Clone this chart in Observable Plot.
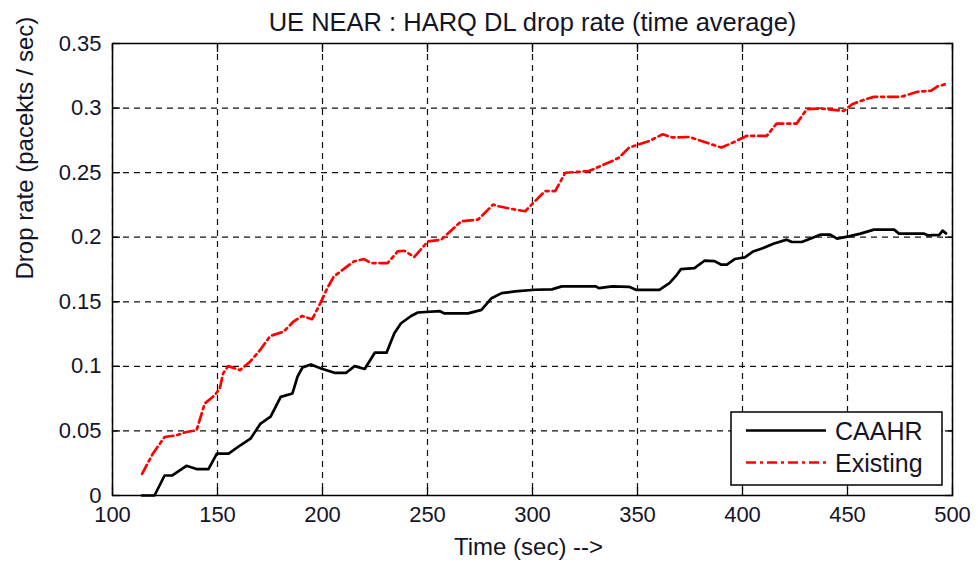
<!DOCTYPE html>
<html>
<head>
<meta charset="utf-8">
<script src="https://cdn.jsdelivr.net/npm/d3@7"></script>
<script src="https://cdn.jsdelivr.net/npm/@observablehq/plot@0.6"></script>
<style>
  html, body { margin: 0; padding: 0; background: #fff; }
  #chart svg { display: block; }
</style>
</head>
<body>
<div id="chart"></div>
<script>
// Time-averaged HARQ downlink drop rate for the near UE
const caahrTime = [114, 120, 124.8, 128.5, 135.2, 140, 145.7, 149.7, 155.3, 160.9, 165.7, 170.5, 175.3, 180.1, 185.7, 188.1, 190.5, 194.5, 199.3, 205.7, 211.3, 215.3, 220.1, 224.9, 230.5, 234.2, 237.4, 242.2, 245.4, 255.7, 258.1, 269.3, 275.7, 280.5, 285.3, 291.7, 301.2, 309.2, 314, 330, 331.6, 338, 346, 349.2, 360.4, 365.2, 368.3, 370.7, 377.1, 381.9, 386.7, 389.9, 392.5, 396.3, 401.1, 405.1, 409.9, 414.7, 421.1, 423.5, 428.2, 432.2, 437, 441.8, 445, 450.6, 456.2, 462.6, 472.2, 474.5, 486.5, 488.1, 493.7, 495.3, 496.9];
const caahrRate = [0, 0, 0.0155, 0.0155, 0.023, 0.0205, 0.0205, 0.0324, 0.0324, 0.0389, 0.044, 0.0557, 0.061, 0.0764, 0.079, 0.092, 0.0992, 0.1015, 0.0984, 0.095, 0.095, 0.1002, 0.098, 0.1106, 0.1106, 0.1256, 0.1334, 0.139, 0.1417, 0.1428, 0.141, 0.141, 0.1437, 0.1528, 0.1567, 0.158, 0.1593, 0.1596, 0.1619, 0.162, 0.1606, 0.162, 0.1616, 0.1593, 0.1593, 0.1645, 0.17, 0.1753, 0.1761, 0.1818, 0.1815, 0.1787, 0.1787, 0.1831, 0.1844, 0.189, 0.1917, 0.195, 0.1981, 0.1963, 0.1963, 0.1989, 0.202, 0.202, 0.1989, 0.2007, 0.2028, 0.2059, 0.2059, 0.2028, 0.2028, 0.2015, 0.2018, 0.2051, 0.203];

const existingTime = [114.1, 119.2, 124.8, 130.4, 135.2, 140, 141.5, 143.9, 148.7, 151.1, 152.7, 155.1, 160.7, 165.5, 170.3, 175.1, 181.5, 186.2, 190.3, 195.1, 199, 202.3, 205.4, 215, 219.8, 223, 231, 235.8, 239, 243.7, 250.2, 256.5, 266.1, 274.1, 281.3, 283.7, 291.7, 296.5, 301.2, 306, 310.8, 315.6, 326.8, 338, 341.2, 346, 355.6, 362, 366.8, 374.7, 382.7, 389.9, 395.5, 401.9, 411.5, 416.2, 425.8, 430.6, 437, 443.4, 448.2, 452.2, 457.8, 462.6, 475.4, 483.3, 489.7, 492.9, 496.9];
const existingRate = [0.0168, 0.0324, 0.0453, 0.0466, 0.0492, 0.0505, 0.0583, 0.0712, 0.0777, 0.0829, 0.0946, 0.1002, 0.0971, 0.1036, 0.1127, 0.1235, 0.1269, 0.1347, 0.139, 0.1365, 0.149, 0.1606, 0.1696, 0.1813, 0.1831, 0.18, 0.18, 0.189, 0.1895, 0.1847, 0.1968, 0.1981, 0.2124, 0.2137, 0.2253, 0.224, 0.2214, 0.2201, 0.2279, 0.2357, 0.2357, 0.2499, 0.2512, 0.259, 0.2616, 0.2694, 0.2745, 0.2797, 0.2772, 0.2776, 0.2733, 0.2694, 0.2733, 0.2784, 0.2784, 0.288, 0.288, 0.2991, 0.2997, 0.2986, 0.2978, 0.303, 0.3064, 0.3087, 0.3087, 0.3126, 0.3134, 0.3168, 0.3186];

const xTicks = [100, 150, 200, 250, 300, 350, 400, 450, 500];
const yTicks = [0, 0.05, 0.1, 0.15, 0.2, 0.25, 0.3, 0.35];
const yTickLabels = ["0", "0.05", "0.1", "0.15", "0.2", "0.25", "0.3", "0.35"];

const seriesNames = ["CAAHR", "Existing"];
const titleText = "UE NEAR : HARQ DL drop rate (time average)";
const xLabel = "Time (sec) -->";
const yLabel = "Drop rate (pacekts / sec)";

const caahr = caahrTime.map((t, i) => ({t, v: caahrRate[i]}));
const existing = existingTime.map((t, i) => ({t, v: existingRate[i]}));

const W = 978, H = 562;
const M = {left: 112, right: 26, top: 43, bottom: 67};
const ink = "#141428";
const font = "'Liberation Sans', Arial, Helvetica, sans-serif";
const redDash = "10,4,3,4";

const blank = () => "";

const chart = Plot.plot({
  width: W,
  height: H,
  marginLeft: M.left,
  marginRight: M.right,
  marginTop: M.top,
  marginBottom: M.bottom,
  x: {domain: [100, 500], label: null},
  y: {domain: [0, 0.35], label: null},
  style: {fontFamily: font, background: "#fff", color: ink, overflow: "visible"},
  marks: [
    Plot.gridX(xTicks, {stroke: "#111", strokeOpacity: 1, strokeWidth: 1.2, strokeDasharray: "6,5"}),
    Plot.gridY(yTicks, {stroke: "#111", strokeOpacity: 1, strokeWidth: 1.2, strokeDasharray: "6,5"}),
    // inward tick marks on all four sides
    Plot.axisX(xTicks, {anchor: "bottom", tickSize: -8, tickFormat: blank, stroke: "#000", strokeWidth: 1.3}),
    Plot.axisX(xTicks, {anchor: "top", tickSize: -8, tickFormat: blank, stroke: "#000", strokeWidth: 1.3}),
    Plot.axisY(yTicks, {anchor: "left", tickSize: -8, tickFormat: blank, stroke: "#000", strokeWidth: 1.3}),
    Plot.axisY(yTicks, {anchor: "right", tickSize: -8, tickFormat: blank, stroke: "#000", strokeWidth: 1.3}),
    Plot.line(caahr, {x: "t", y: "v", stroke: "#000", strokeWidth: 2.7, curve: "linear"}),
    Plot.line(existing, {x: "t", y: "v", stroke: "#ff0000", strokeWidth: 2.7, strokeDasharray: redDash}),
    Plot.frame({stroke: "#000", strokeWidth: 1.5}),
    // tick labels
    Plot.axisX(xTicks, {anchor: "bottom", tickSize: 0, tickPadding: 11, fontSize: 22, fill: ink, label: null}),
    Plot.axisY(yTicks, {anchor: "left", tickSize: 0, tickPadding: 11, fontSize: 22, fill: ink, label: null,
      tickFormat: d => yTickLabels[yTicks.indexOf(d)]}),
    // title and axis labels
    Plot.text([titleText], {frameAnchor: "top", lineAnchor: "bottom", dy: -13, fontSize: 25.5, fill: ink}),
    Plot.text([xLabel], {frameAnchor: "bottom", lineAnchor: "middle", dx: -4, dy: 52, fontSize: 24, fill: ink}),
    Plot.text([yLabel], {frameAnchor: "left", lineAnchor: "middle", rotate: -90, dx: -87, dy: 10, fontSize: 24, fill: ink})
  ]
});

document.getElementById("chart").appendChild(chart);

// legend box in the lower-right corner of the frame
const svg = d3.select(chart);
const frameRight = W - M.right, frameBottom = H - M.bottom;
const boxW = 211, boxH = 73;
const lg = svg.append("g")
  .attr("transform", `translate(${frameRight - 10 - boxW},${frameBottom - 10 - boxH})`);
lg.append("rect")
  .attr("width", boxW).attr("height", boxH)
  .attr("fill", "#fff").attr("stroke", "#000").attr("stroke-width", 1.5);
const legendItems = [
  {name: seriesNames[0], stroke: "#000", dash: null, y: 18.5},
  {name: seriesNames[1], stroke: "#ff0000", dash: redDash, y: 50.5}
];
legendItems.forEach(d => {
  lg.append("line")
    .attr("x1", 15).attr("x2", 95).attr("y1", d.y).attr("y2", d.y)
    .attr("stroke", d.stroke).attr("stroke-width", 2.7)
    .attr("stroke-dasharray", d.dash);
  lg.append("text")
    .attr("x", 104).attr("y", d.y + 9)
    .attr("text-anchor", "start")
    .attr("font-family", font).attr("font-size", 25).attr("fill", ink)
    .text(d.name);
});
</script>
</body>
</html>
